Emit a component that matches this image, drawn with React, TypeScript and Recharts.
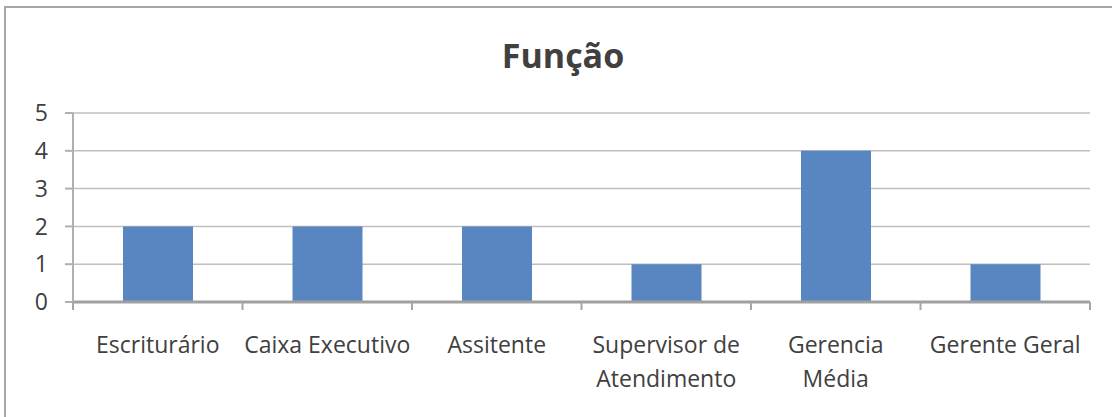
import React from "react";
import { BarChart, Bar, XAxis, YAxis, CartesianGrid } from "recharts";

const categories = [
  "Escriturário",
  "Caixa Executivo",
  "Assitente",
  "Supervisor de Atendimento",
  "Gerencia Média",
  "Gerente Geral",
];
const counts = [2, 2, 2, 1, 4, 1];
// how each category label is broken onto lines under the axis
const labelLines = [
  ["Escriturário"],
  ["Caixa Executivo"],
  ["Assitente"],
  ["Supervisor de", "Atendimento"],
  ["Gerencia", "Média"],
  ["Gerente Geral"],
];
const yTicks = [0, 1, 2, 3, 4, 5];

const chartData = categories.map((name, i) => ({ name, value: counts[i] }));

const W = 1112;
const H = 417;
const MARGIN = { top: 113, right: 22, left: 0, bottom: 0 };
const Y_AXIS_W = 73;
const BAND = (W - Y_AXIS_W - MARGIN.right) / categories.length;

const FONT = "'Open Sans', sans-serif";
const TEXT = "#404040";
const TICK_GREY = "#A6A6A6";

const CategoryTick = (props: any) => {
  const { x, y, index } = props;
  const lines = labelLines[index] || [props.payload.value];
  const left = x - BAND / 2;
  const right = x + BAND / 2;
  return (
    <g>
      <line x1={left} x2={left} y1={y - 8} y2={y} stroke={TICK_GREY} strokeWidth={2} />
      {index === categories.length - 1 && (
        <line x1={right} x2={right} y1={y - 8} y2={y} stroke={TICK_GREY} strokeWidth={2} />
      )}
      <text x={x} y={y} textAnchor="middle" fill={TEXT} fontSize={23} fontFamily={FONT}>
        {lines.map((l: string, i: number) => (
          <tspan key={i} x={x} dy={i === 0 ? 43 : 34}>
            {l}
          </tspan>
        ))}
      </text>
    </g>
  );
};

export default function App() {
  return (
    <div
      style={{
        position: "absolute",
        left: 0,
        top: 0,
        width: W,
        height: H,
        overflow: "hidden",
        background: "#fff",
      }}
    >
      <div
        style={{
          position: "absolute",
          left: 4,
          top: 6,
          width: 1200,
          height: 500,
          border: "2px solid #A6A6A6",
        }}
      />
      <div
        style={{
          position: "absolute",
          left: 0,
          width: 1126,
          top: 30,
          textAlign: "center",
          fontFamily: FONT,
          fontWeight: 700,
          fontSize: 34,
          lineHeight: "50px",
          color: TEXT,
        }}
      >
        Função
      </div>
      <div style={{ position: "absolute", left: 0, top: 0 }}>
        <BarChart width={W} height={H} data={chartData} margin={MARGIN} style={{ fontFamily: FONT }}>
          <CartesianGrid vertical={false} stroke="#BFBFBF" strokeWidth={1.5} />
          <XAxis
            dataKey="name"
            interval={0}
            axisLine={{ stroke: "#A0A0A0", strokeWidth: 3 }}
            tickLine={false}
            tickSize={8}
            tickMargin={0}
            tick={<CategoryTick />}
            height={H - MARGIN.top - 189}
          />
          <YAxis
            domain={[0, 5]}
            ticks={yTicks}
            width={Y_AXIS_W}
            tickSize={8}
            tickMargin={17}
            axisLine={{ stroke: "#B0B0B0", strokeWidth: 2 }}
            tickLine={{ stroke: "#B0B0B0", strokeWidth: 2 }}
            tick={{ fill: TEXT, fontSize: 23, fontFamily: FONT }}
          />
          <Bar dataKey="value" fill="#5886C0" barSize={70} isAnimationActive={false} />
        </BarChart>
      </div>
    </div>
  );
}
